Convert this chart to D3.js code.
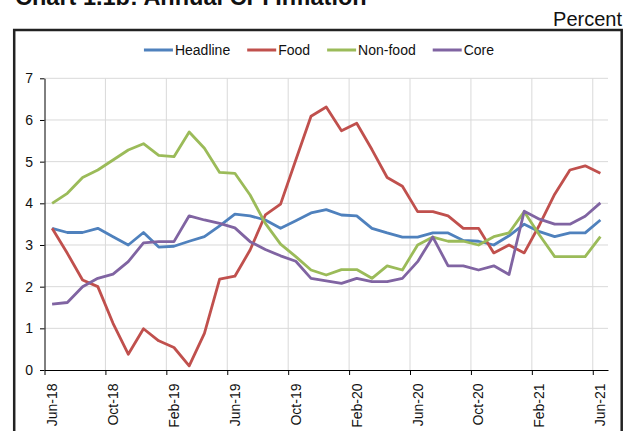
<!DOCTYPE html>
<html>
<head>
<meta charset="utf-8">
<script src="https://cdnjs.cloudflare.com/ajax/libs/d3/7.8.5/d3.min.js"></script>
<style>
  body { margin: 0; background: #fff; }
  svg { display: block; font-family: "Liberation Sans", Arial, sans-serif; }
</style>
</head>
<body>
<svg id="chart" width="633" height="431"></svg>
<script>
// months Jun-18 .. Jun-21
var months = ["Jun-18","Jul-18","Aug-18","Sep-18","Oct-18","Nov-18","Dec-18","Jan-19","Feb-19","Mar-19","Apr-19","May-19",
  "Jun-19","Jul-19","Aug-19","Sep-19","Oct-19","Nov-19","Dec-19","Jan-20","Feb-20","Mar-20","Apr-20","May-20",
  "Jun-20","Jul-20","Aug-20","Sep-20","Oct-20","Nov-20","Dec-20","Jan-21","Feb-21","Mar-21","Apr-21","May-21","Jun-21"];
var tickLabels = ["Jun-18","Oct-18","Feb-19","Jun-19","Oct-19","Feb-20","Jun-20","Oct-20","Feb-21","Jun-21"];
var yTicks = [0, 1, 2, 3, 4, 5, 6, 7];

var headline = [3.40,3.30,3.30,3.40,3.20,3.00,3.30,2.95,2.97,3.09,3.20,3.46,
  3.74,3.70,3.60,3.40,3.58,3.77,3.85,3.72,3.70,3.40,3.29,3.19,
  3.19,3.29,3.29,3.11,3.09,3.00,3.22,3.50,3.32,3.20,3.29,3.29,3.60];
var food = [3.40,2.80,2.16,2.00,1.12,0.38,0.99,0.70,0.54,0.10,0.88,2.18,
  2.25,2.88,3.72,3.98,5.04,6.09,6.31,5.74,5.92,5.29,4.62,4.41,
  3.80,3.80,3.70,3.40,3.40,2.81,3.00,2.81,3.48,4.22,4.80,4.90,4.72];
var nonFood = [4.00,4.24,4.62,4.80,5.04,5.28,5.43,5.15,5.12,5.71,5.32,4.74,
  4.72,4.20,3.52,3.02,2.72,2.40,2.28,2.41,2.41,2.20,2.50,2.40,
  3.00,3.19,3.09,3.09,3.00,3.20,3.29,3.80,3.24,2.72,2.72,2.72,3.20];
var core = [1.58,1.62,2.00,2.20,2.30,2.60,3.05,3.08,3.08,3.70,3.60,3.52,
  3.41,3.08,2.89,2.74,2.61,2.20,2.14,2.08,2.20,2.12,2.12,2.20,
  2.60,3.19,2.50,2.50,2.40,2.50,2.29,3.81,3.62,3.50,3.50,3.69,4.01];

var seriesNames = ["Headline", "Food", "Non-food", "Core"];
var seriesColors = ["#4F81BD", "#C0504D", "#9BBB59", "#8064A2"];
var seriesData = [headline, food, nonFood, core];

var svg = d3.select("#chart");
var plotLeft = 44.5, plotRight = 608, plotTop = 78.3, plotBottom = 370;

// title (clipped at the top of the picture)
svg.append("text")
  .attr("x", 15).attr("y", 4.5)
  .attr("font-size", 23.5).attr("font-weight", "bold").attr("fill", "#111")
  .text("Chart 1.1b: Annual CPI Inflation");

svg.append("text")
  .attr("x", 622).attr("y", 26)
  .attr("text-anchor", "end").attr("font-size", 20).attr("fill", "#111")
  .text("Percent");

// outer frame
svg.append("rect")
  .attr("x", 14.2).attr("y", 30).attr("width", 607.5).attr("height", 420)
  .attr("fill", "none").attr("stroke", "#222").attr("stroke-width", 2.5);

var x = d3.scaleLinear().domain([0, months.length]).range([plotLeft, plotRight]);
var y = d3.scaleLinear().domain([0, 7]).range([plotBottom, plotTop]);

// gridlines
var grid = svg.append("g");
grid.selectAll(".hg").data(yTicks.filter(function (d) { return d > 0; }))
  .enter().append("line")
  .attr("x1", plotLeft).attr("x2", plotRight)
  .attr("y1", function (d) { return y(d); }).attr("y2", function (d) { return y(d); })
  .attr("stroke", "#d9d9d9").attr("stroke-width", 1);

var tickIdx = tickLabels.map(function (t) { return months.indexOf(t); });
grid.selectAll(".vg").data(tickIdx.filter(function (d) { return d > 0; }))
  .enter().append("line")
  .attr("x1", function (d) { return x(d); }).attr("x2", function (d) { return x(d); })
  .attr("y1", plotTop).attr("y2", plotBottom)
  .attr("stroke", "#d9d9d9").attr("stroke-width", 1);

// y axis
var yAxis = svg.append("g")
  .attr("transform", "translate(" + plotLeft + ",0)")
  .call(d3.axisLeft(y).tickValues(yTicks).tickFormat(d3.format("d")).tickSize(4.5).tickSizeOuter(0).tickPadding(7));
yAxis.select(".domain").attr("stroke", "#000");
yAxis.selectAll("line").attr("stroke", "#000");
yAxis.selectAll("text").attr("font-size", 14).attr("fill", "#111").attr("font-family", "Liberation Sans, Arial, sans-serif");

// x axis: ticks on category boundaries, labels on category centres
var xAxis = svg.append("g")
  .attr("transform", "translate(0," + plotBottom + ")")
  .call(d3.axisBottom(x).tickValues(tickIdx).tickSize(5).tickSizeOuter(0).tickFormat(""));
xAxis.select(".domain").attr("stroke", "#000");
xAxis.selectAll("line").attr("stroke", "#000");

svg.append("g").selectAll("text").data(tickIdx)
  .enter().append("text")
  .attr("transform", function (d) { return "translate(" + x(d + 0.5) + "," + (plotBottom + 13.5) + ") rotate(-90)"; })
  .attr("dy", "0.35em")
  .attr("text-anchor", "end")
  .attr("font-size", 14).attr("fill", "#111")
  .text(function (d) { return months[d]; });

// series lines
var line = d3.line()
  .x(function (d, i) { return x(i + 0.5); })
  .y(function (d) { return y(d); });

seriesData.forEach(function (vals, k) {
  svg.append("path")
    .datum(vals)
    .attr("d", line)
    .attr("fill", "none")
    .attr("stroke", seriesColors[k])
    .attr("stroke-width", 2.8)
    .attr("stroke-linejoin", "round");
});

// legend, centred over the frame
var legend = svg.append("g");
var lx = 0, lineLen = 29, gapText = 2, gapItem = 17;
seriesNames.forEach(function (name, k) {
  var g = legend.append("g").attr("transform", "translate(" + lx + ",0)");
  g.append("line").attr("x1", 0).attr("x2", lineLen).attr("y1", 50).attr("y2", 50)
    .attr("stroke", seriesColors[k]).attr("stroke-width", 3);
  var t = g.append("text").attr("x", lineLen + gapText).attr("y", 50).attr("dy", "0.35em")
    .attr("font-size", 14).attr("fill", "#111").text(name);
  lx += lineLen + gapText + t.node().getComputedTextLength() + gapItem;
});
var legW = lx - gapItem;
legend.attr("transform", "translate(" + (319 - legW / 2) + ",0)");
</script>
</body>
</html>
